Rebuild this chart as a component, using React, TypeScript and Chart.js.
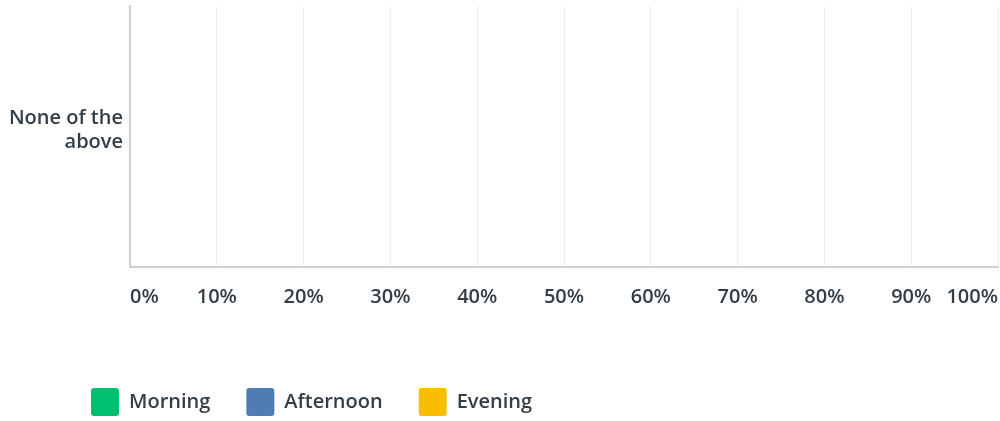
import React, { useEffect, useRef } from "react";
import { Chart, registerables } from "chart.js";

Chart.register(...registerables);

const categories: (string | string[])[] = [["None of the", "above"]];
const seriesNames = ["Morning", "Afternoon", "Evening"];
const morningValues = [0];
const afternoonValues = [0];
const eveningValues = [0];
const seriesColors = ["#00bf6f", "#507cb6", "#f9be00"];
const xTickLabels = ["0%", "10%", "20%", "30%", "40%", "50%", "60%", "70%", "80%", "90%", "100%"];

const TEXT = "#333e48";
const FONT = { family: "'Open Sans', sans-serif", size: 20, weight: 600 as const, lineHeight: 1.2 };

export default function App() {
  const ref = useRef<HTMLCanvasElement>(null);

  useEffect(() => {
    document.body.style.margin = "0";
    if (!ref.current) return;

    const legendShift = {
      id: "legendShift",
      afterLayout(chart: any) {
        const l = chart.legend;
        if (l) {
          l.left += 55;
          l.right += 55;
          l.top += 5;
          l.bottom += 5;
        }
      },
    };

    const values = [morningValues, afternoonValues, eveningValues];
    const chart = new Chart(ref.current, {
      type: "bar",
      data: {
        labels: categories,
        datasets: seriesNames.map((name, i) => ({
          label: name,
          data: values[i],
          backgroundColor: seriesColors[i],
          borderWidth: 0,
        })),
      },
      options: {
        indexAxis: "y",
        animation: false,
        responsive: true,
        maintainAspectRatio: false,
        layout: { padding: { top: 6, right: 2, left: 0, bottom: 0 } },
        plugins: {
          tooltip: { enabled: false },
          legend: {
            position: "bottom",
            align: "start",
            labels: {
              color: TEXT,
              font: FONT,
              boxWidth: 28,
              boxHeight: 28,
              padding: 36,
              useBorderRadius: true,
              borderRadius: 3,
            },
          },
        },
        scales: {
          x: {
            min: 0,
            max: 100,
            ticks: {
              stepSize: 10,
              autoSkip: false,
              maxRotation: 0,
              align: "inner",
              padding: 18,
              color: TEXT,
              font: FONT,
              callback: (_v: any, i: number) => xTickLabels[i],
            },
            grid: { color: "#ececec", lineWidth: 1, drawTicks: false },
            border: { display: true, color: "#cfcfcf", width: 2 },
            afterFit: (s: any) => {
              s.height = 80;
              s.paddingLeft = 0;
              s.paddingRight = 0;
            },
          },
          y: {
            ticks: { padding: 7, color: TEXT, font: FONT, labelOffset: -6 },
            grid: { display: false, drawTicks: false },
            border: { display: true, color: "#cfcfcf", width: 2 },
            afterFit: (s: any) => {
              s.width = 130;
              s.paddingTop = 0;
              s.paddingBottom = 0;
            },
          },
        },
      } as any,
      plugins: [legendShift],
    });
    return () => chart.destroy();
  }, []);

  return (
    <div style={{ width: "1000px", height: "421px", position: "relative" }}>
      <canvas ref={ref} />
    </div>
  );
}
